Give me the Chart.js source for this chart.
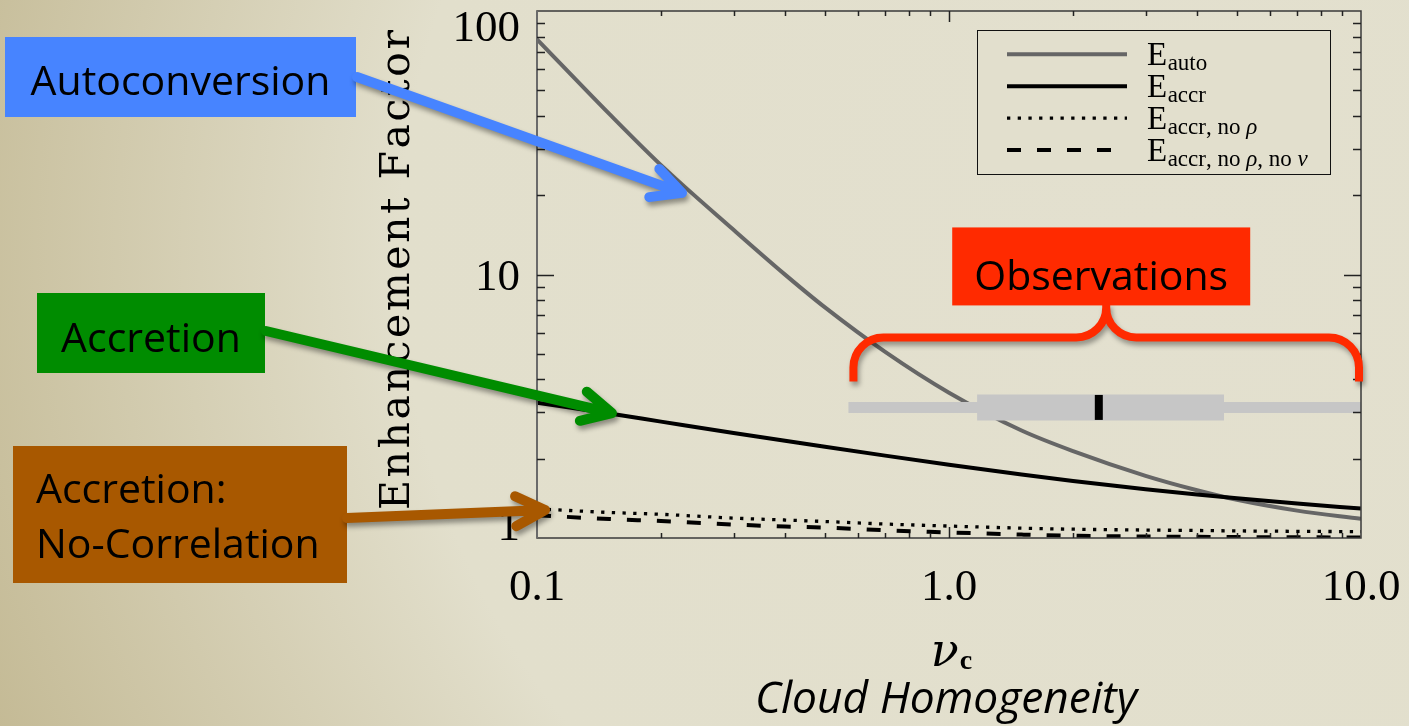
<!DOCTYPE html>
<html>
<head>
<meta charset="utf-8">
<script src="https://cdn.jsdelivr.net/npm/chart.js@4/dist/chart.umd.min.js"></script>
<style>
  html, body { margin: 0; padding: 0; background: #E2DFCC; overflow: hidden; }
  canvas { display: block; }
</style>
</head>
<body>
<canvas id="chart" width="1409" height="726"></canvas>
<script>
// Cloud homogeneity parameter (nu_c) sampled along the x axis
const nu = [0.1, 0.15, 0.2, 0.3, 0.4, 0.5, 0.7, 1.0, 1.5, 2, 3, 4, 5, 7, 10];

// Enhancement factors for each process
const eAuto          = [78.1, 40.6, 26.0, 14.77, 9.99, 7.50, 5.085, 3.559, 2.558, 2.137, 1.722, 1.518, 1.396, 1.27, 1.182];
const eAccr          = [3.263, 2.966, 2.765, 2.505, 2.338, 2.219, 2.054, 1.897, 1.742, 1.647, 1.532, 1.463, 1.415, 1.352, 1.293];
const eAccrNoRho     = [1.29, 1.25, 1.23, 1.19, 1.17, 1.155, 1.13, 1.11, 1.09, 1.08, 1.072, 1.068, 1.064, 1.06, 1.057];
const eAccrNoRhoNoNu = [1.22, 1.18, 1.16, 1.125, 1.105, 1.095, 1.07, 1.05, 1.03, 1.02, 1.013, 1.01, 1.008, 1.006, 1.005];

// Observed nu_c: full range, inter-quartile range, median, drawn at a fixed enhancement level
const obsRange  = [0.57, 10];
const obsIQR    = [1.17, 4.65];
const obsMedian = 2.31;
const obsLevel  = 3.13;

// Axis ticks and labels
const xTicks      = [0.1,0.2,0.3,0.4,0.5,0.6,0.7,0.8,0.9,1,2,3,4,5,6,7,8,9,10];
const xMajor      = [0.1, 1, 10];
const xTickLabels = ['0.1', '1.0', '10.0'];
const yTicks      = [1,2,3,4,5,6,7,8,9,10,20,30,40,50,60,70,80,90,100];
const yMajor      = [1, 10, 100];
const yTickLabels = ['1', '10', '100'];

// Legend entries: main letter plus subscript
const legendMain = ['E', 'E', 'E', 'E'];
const legendSubs = ['auto', 'accr', 'accr, no ρ', 'accr, no ρ, no ν'];

// Callout annotations (pixel boxes, arrow tips given in data units)
const callouts = [
  { lines: ['Autoconversion'], fill: '#4784FF', box: [5, 37, 351, 80], textX: null, baselines: [95],
    start: [357, 77], tip: { x: 0.2249, y: 20.4 } },
  { lines: ['Accretion'], fill: '#008C00', box: [37, 293, 228, 80], textX: null, baselines: [352],
    start: [266, 331], tip: { x: 0.152, y: 2.98 } },
  { lines: ['Accretion:', 'No-Correlation'], fill: '#A85800', box: [13, 446, 334, 137], textX: 36, baselines: [503, 558],
    start: [347, 518], tip: { x: 0.1046, y: 1.277 } }
];
const obsTitle = 'Observations';

const SERIF = '"Liberation Serif", "DejaVu Serif", serif';
const SERIF2 = '"DejaVu Serif", "Liberation Serif", serif';
const SANS = '"Open Sans", "Noto Sans", sans-serif';

const pts = ys => nu.map((x, i) => ({ x, y: ys[i] }));
const lineDs = (label, ys, color, width, dash) => ({
  label, data: pts(ys), showLine: true, borderColor: color, backgroundColor: color,
  borderWidth: width, borderDash: dash || [], pointRadius: 0, pointHoverRadius: 0,
  tension: 0.4, cubicInterpolationMode: 'monotone', borderCapStyle: 'butt'
});

const datasets = [
  { label: 'median', data: [{ x: obsMedian, y: obsLevel }], showLine: false,
    pointStyle: 'line', pointRotation: 90, pointRadius: 12.5, pointHoverRadius: 12.5,
    pointBorderWidth: 8, pointBorderColor: '#000', pointBackgroundColor: '#000' },
  { label: 'iqr', data: obsIQR.map(x => ({ x, y: obsLevel })), showLine: true,
    borderColor: '#C6C6C6', borderWidth: 26, pointRadius: 0, borderCapStyle: 'butt' },
  { label: 'range', data: obsRange.map(x => ({ x, y: obsLevel })), showLine: true,
    borderColor: '#C6C6C6', borderWidth: 11, pointRadius: 0, borderCapStyle: 'butt' },
  lineDs('E_accr', eAccr, '#000000', 4),
  lineDs('E_auto', eAuto, '#666666', 4),
  lineDs('E_accr_no_rho', eAccrNoRho, '#000000', 3.3, [3.3, 7.4]),
  lineDs('E_accr_no_rho_no_nu', eAccrNoRhoNoNu, '#000000', 4, [14, 16])
];
// datasets shown in the legend, in legend order
const legendDatasets = [4, 3, 5, 6];

function drawArrow(ctx, x0, y0, x1, y1, color) {
  const ang = Math.atan2(y1 - y0, x1 - x0);
  const arm = 33, spread = 27 * Math.PI / 180;
  ctx.save();
  ctx.strokeStyle = color;
  ctx.lineWidth = 10;
  ctx.lineCap = 'round';
  ctx.lineJoin = 'round';
  ctx.shadowColor = 'rgba(0,0,0,0.38)';
  ctx.shadowBlur = 5;
  ctx.shadowOffsetX = 2;
  ctx.shadowOffsetY = 4;
  ctx.beginPath();
  ctx.moveTo(x0, y0);
  ctx.lineTo(x1, y1);
  ctx.moveTo(x1 - arm * Math.cos(ang - spread), y1 - arm * Math.sin(ang - spread));
  ctx.lineTo(x1, y1);
  ctx.lineTo(x1 - arm * Math.cos(ang + spread), y1 - arm * Math.sin(ang + spread));
  ctx.stroke();
  ctx.restore();
}

function spacedText(ctx, text, cx, baseline, totalW) {
  const chars = [...text];
  const ws = chars.map(c => ctx.measureText(c).width);
  const nat = ws.reduce((a, b) => a + b, 0);
  const gap = (totalW - nat) / (chars.length - 1);
  let x = cx - totalW / 2;
  chars.forEach((c, i) => { ctx.fillText(c, x, baseline); x += ws[i] + gap; });
}

function drawSub(ctx, text, x, baseline, size) {
  for (const ch of text) {
    const greek = /[\u0370-\u03FF]/.test(ch);
    ctx.font = (greek ? 'italic ' : '') + size + 'px ' + SERIF;
    ctx.fillText(ch, x, baseline);
    x += ctx.measureText(ch).width;
  }
  return x;
}

const decor = {
  id: 'decor',
  beforeDraw(chart) {
    const ctx = chart.ctx;
    const g = ctx.createRadialGradient(1150, 250, 0, 1150, 250, 1250);
    g.addColorStop(0, '#E3E0CF');
    g.addColorStop(0.6, '#E2DFCC');
    g.addColorStop(1, '#C4BA95');
    ctx.save();
    ctx.fillStyle = g;
    ctx.fillRect(0, 0, chart.width, chart.height);
    ctx.restore();
  },
  afterDatasetsDraw(chart) {
    const ctx = chart.ctx;
    const xs = chart.scales.x, ys = chart.scales.y;
    const { left, right, top, bottom } = chart.chartArea;
    ctx.save();

    // frame
    ctx.strokeStyle = '#3a3a3a';
    ctx.lineWidth = 1.5;
    ctx.strokeRect(left, top, right - left, bottom - top);
    ctx.strokeStyle = '#6a6a6a';
    ctx.lineWidth = 2;
    ctx.beginPath(); ctx.moveTo(left, top); ctx.lineTo(left, bottom); ctx.stroke();

    // tick marks on all four sides, pointing inward
    ctx.strokeStyle = '#222';
    ctx.lineWidth = 1.5;
    ctx.beginPath();
    xs.ticks.forEach(t => {
      const p = Math.round(xs.getPixelForValue(t.value)) + 0.5;
      if (p <= left + 1 || p >= right - 1) return;
      const len = t.major ? 11 : 5;
      ctx.moveTo(p, bottom); ctx.lineTo(p, bottom - len);
      ctx.moveTo(p, top); ctx.lineTo(p, top + len);
    });
    ys.ticks.forEach(t => {
      const p = Math.round(ys.getPixelForValue(t.value)) + 0.5;
      if (p <= top + 1 || p >= bottom - 1) return;
      const len = t.major ? 17 : 8;
      ctx.moveTo(left, p); ctx.lineTo(left + len, p);
      ctx.moveTo(right, p); ctx.lineTo(right - len, p);
    });
    ctx.stroke();

    // tick labels
    ctx.fillStyle = '#000';
    ctx.font = '45px ' + SERIF;
    ctx.textAlign = 'center';
    ctx.textBaseline = 'alphabetic';
    xMajor.forEach((v, i) => ctx.fillText(xTickLabels[i], xs.getPixelForValue(v), 600));
    ctx.textAlign = 'right';
    const capH = 30;
    yMajor.forEach((v, i) => {
      const p = ys.getPixelForValue(v);
      const base = Math.min(Math.max(p + capH / 2, top + capH), bottom + 2);
      ctx.fillText(yTickLabels[i], left - 17, base);
    });

    // y axis title
    ctx.save();
    ctx.translate(409, 270);
    ctx.rotate(-Math.PI / 2);
    ctx.textAlign = 'left';
    ctx.font = '41px ' + SERIF2;
    spacedText(ctx, 'Enhancement Factor', 0, 0, 480);
    ctx.restore();

    // x axis title: nu_c and description
    ctx.textAlign = 'left';
    ctx.font = 'italic 46px ' + SERIF2;
    const wNu = ctx.measureText('ν').width;
    ctx.font = 'bold 28px ' + SERIF;
    const wC = ctx.measureText('c').width;
    const nx = 951 - (wNu + wC) / 2;
    ctx.font = 'italic 46px ' + SERIF2;
    ctx.fillText('ν', nx, 666);
    ctx.font = 'bold 28px ' + SERIF;
    ctx.fillText('c', nx + wNu + 1, 669);

    ctx.font = 'italic 36px ' + SANS;
    const sub = 'Cloud Homogeneity';
    const sw = ctx.measureText(sub).width;
    const fs = 36 * 382 / sw;
    ctx.font = 'italic ' + fs.toFixed(1) + 'px ' + SANS;
    ctx.textAlign = 'center';
    ctx.fillText(sub, 946, 713);

    // legend
    const lx = 977, ly = 30, lw = 353, lh = 144;
    ctx.fillStyle = '#E2DFCD';
    ctx.fillRect(lx, ly, lw, lh);
    ctx.strokeStyle = '#111';
    ctx.lineWidth = 1;
    ctx.strokeRect(lx + 0.5, ly + 0.5, lw, lh);
    legendDatasets.forEach((di, i) => {
      const ds = chart.data.datasets[di];
      const rowY = 54.3 + i * 31.9;
      ctx.save();
      ctx.strokeStyle = ds.borderColor;
      ctx.lineWidth = ds.borderWidth;
      ctx.setLineDash(ds.borderDash || []);
      ctx.lineCap = 'butt';
      ctx.beginPath();
      ctx.moveTo(1007, rowY);
      ctx.lineTo(1127, rowY);
      ctx.stroke();
      ctx.restore();
      ctx.fillStyle = '#000';
      ctx.textAlign = 'left';
      ctx.font = '33px ' + SERIF;
      ctx.fillText(legendMain[i], 1147, rowY + 10.7);
      const ew = ctx.measureText(legendMain[i]).width;
      drawSub(ctx, legendSubs[i], 1147 + ew + 0.5, rowY + 15.5, 23);
    });

    // observations brace and title box
    const bl = xs.getPixelForValue(obsRange[0]) + 5;
    const br = xs.getPixelForValue(obsRange[1]) - 2;
    const by = ys.getPixelForValue(obsLevel);
    const hy = by - 70, endY = by - 26, peakY = by - 104, r = 30;
    const mid = (bl + br) / 2;
    ctx.save();
    ctx.strokeStyle = '#FF2A00';
    ctx.lineWidth = 8;
    ctx.lineJoin = 'round';
    ctx.shadowColor = 'rgba(0,0,0,0.35)';
    ctx.shadowBlur = 5;
    ctx.shadowOffsetX = 2;
    ctx.shadowOffsetY = 4;
    ctx.beginPath();
    ctx.moveTo(bl, endY);
    ctx.lineTo(bl, hy + r);
    ctx.arcTo(bl, hy, bl + r, hy, r);
    ctx.lineTo(mid - r, hy);
    ctx.arcTo(mid, hy, mid, hy - r, r);
    ctx.lineTo(mid, peakY);
    ctx.moveTo(mid, peakY);
    ctx.lineTo(mid, hy - r);
    ctx.arcTo(mid, hy, mid + r, hy, r);
    ctx.lineTo(br - r, hy);
    ctx.arcTo(br, hy, br, hy + r, r);
    ctx.lineTo(br, endY);
    ctx.stroke();
    ctx.restore();

    const obW = 298, obH = 78;
    const obX = mid - 5 - obW / 2, obY = peakY - obH + 2;
    ctx.fillStyle = '#FF2A00';
    ctx.fillRect(obX, obY, obW, obH);
    ctx.fillStyle = '#000';
    ctx.font = '41px ' + SANS;
    ctx.textAlign = 'center';
    ctx.fillText(obsTitle, obX + obW / 2, obY + 63);

    // callout boxes with arrows
    callouts.forEach(c => {
      const [bx, byy, bw, bh] = c.box;
      ctx.fillStyle = c.fill;
      ctx.fillRect(bx, byy, bw, bh);
      ctx.fillStyle = '#000';
      ctx.font = '41px ' + SANS;
      c.lines.forEach((t, i) => {
        if (c.textX === null) {
          ctx.textAlign = 'center';
          ctx.fillText(t, bx + bw / 2, c.baselines[i]);
        } else {
          ctx.textAlign = 'left';
          ctx.fillText(t, c.textX, c.baselines[i]);
        }
      });
      drawArrow(ctx, c.start[0], c.start[1],
        xs.getPixelForValue(c.tip.x), ys.getPixelForValue(c.tip.y), c.fill);
    });

    ctx.restore();
  }
};

new Chart(document.getElementById('chart'), {
  type: 'scatter',
  data: { datasets },
  options: {
    responsive: false,
    animation: false,
    events: [],
    layout: { autoPadding: false, padding: { left: 537, right: 48, top: 11, bottom: 188 } },
    plugins: { legend: { display: false }, tooltip: { enabled: false } },
    scales: {
      x: {
        type: 'logarithmic', min: 0.1, max: 10, display: false,
        afterBuildTicks: s => { s.ticks = xTicks.map(v => ({ value: v, major: xMajor.includes(v) })); }
      },
      y: {
        type: 'logarithmic', min: 1, max: 100, display: false,
        afterBuildTicks: s => { s.ticks = yTicks.map(v => ({ value: v, major: yMajor.includes(v) })); }
      }
    }
  },
  plugins: [decor]
});
</script>
</body>
</html>
